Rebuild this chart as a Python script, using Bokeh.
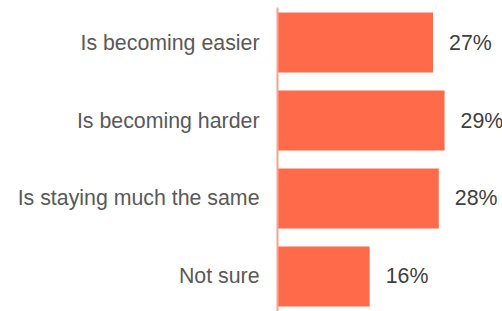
from bokeh.plotting import figure
from bokeh.models import ColumnDataSource, FactorRange, Range1d
from bokeh.core.properties import value
from bokeh.embed import file_html
from bokeh.resources import INLINE

categories = ["Is becoming easier", "Is becoming harder", "Is staying much the same", "Not sure"]
values = [27, 29, 28, 16]
labels = ["27%", "29%", "28%", "16%"]

BAR = "#ff6b4a"
FONT = "Liberation Sans"

source = ColumnDataSource(data=dict(cat=categories, val=values, lab=labels))

p = figure(
    width=502, height=311,
    y_range=FactorRange(factors=list(reversed(categories)), range_padding=-0.0256),
    x_range=Range1d(0, 39.06),
    output_backend="svg", toolbar_location=None,
    min_border_left=277, min_border_right=0, min_border_top=7, min_border_bottom=0,
)

p.hbar(y="cat", right="val", left=0, height=0.77, source=source,
       fill_color=BAR, line_color=None)

p.text(x="val", y="cat", text="lab", source=source,
       x_offset=16, text_align="left", text_baseline="middle",
       text_font=value(FONT), text_font_size="16pt", text_color="#404040")

p.xaxis.visible = False
p.xgrid.visible = False
p.ygrid.visible = False
p.outline_line_color = None

ya = p.yaxis[0]
ya.axis_line_color = "#f7a48f"
ya.axis_line_width = 2
ya.major_tick_line_color = None
ya.minor_tick_line_color = None
ya.major_tick_in = 0
ya.major_tick_out = 0
ya.major_label_standoff = 18
ya.major_label_text_font = FONT
ya.major_label_text_font_size = "16pt"
ya.major_label_text_color = "#595959"

open("out.html", "w").write(file_html(p, INLINE))
